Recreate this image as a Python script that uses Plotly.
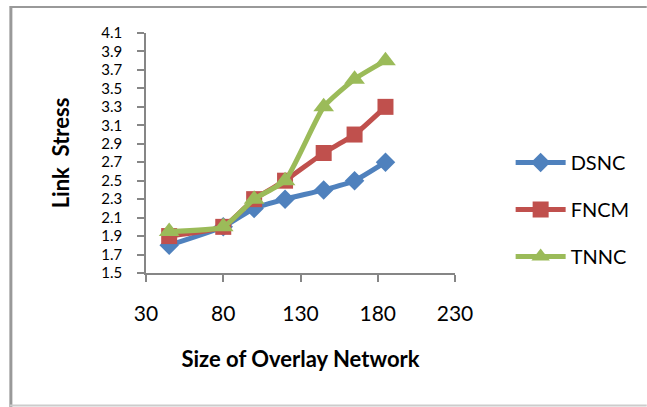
import plotly.graph_objects as go

x_vals = [45, 80, 100, 120, 145, 165, 185]
dsnc = [1.8, 2.0, 2.2, 2.3, 2.4, 2.5, 2.7]
fncm = [1.9, 2.0, 2.3, 2.5, 2.8, 3.0, 3.3]
tnnc = [1.95, 2.0, 2.3, 2.5, 3.3, 3.6, 3.8]
series_names = ["DSNC", "FNCM", "TNNC"]
colors = ["#4F81BD", "#C0504D", "#9BBB59"]
symbols = ["diamond", "square", "triangle-up"]
sizes = [15, 16, 18]

W, H = 647, 407
ML, MR, MT, MB = 146, 190, 33, 134
PW, PH = W - ML - MR, H - MT - MB

def px(x):
    return (x - ML) / PW

def py(y):
    return (H - MB - y) / PH

fig = go.Figure()
for i, (name, ys) in enumerate(zip(series_names, [dsnc, fncm, tnnc])):
    fig.add_trace(go.Scatter(
        x=x_vals, y=ys, name=name, mode="lines+markers",
        line=dict(color=colors[i], width=5, shape="spline", smoothing=0.5),
        marker=dict(symbol=symbols[i], size=sizes[i], color=colors[i]),
        legendgroup=name,
    ))

font = "Lato, 'Open Sans', sans-serif"
fig.update_layout(
    width=W, height=H,
    margin=dict(l=ML, r=MR, t=MT, b=MB),
    paper_bgcolor="white", plot_bgcolor="white",
    font=dict(family=font, color="black"),
    showlegend=True,
    legend=dict(x=px(513), y=py(143), xanchor="left", yanchor="top",
                font=dict(size=20, family=font), tracegroupgap=18,
                itemwidth=50, bgcolor="rgba(0,0,0,0)"),
    xaxis=dict(range=[30, 230], tick0=30, dtick=50, showgrid=False, zeroline=False,
               showline=True, linecolor="#868686", linewidth=1.5,
               ticks="outside", ticklen=7, tickcolor="#868686", tickwidth=1.5,
               tickfont=dict(size=21), ticklabelstandoff=14,
               title=dict(text="<b>Size of Overlay Network</b>", font=dict(size=22), standoff=28)),
    yaxis=dict(range=[1.5, 4.1], tick0=1.5, dtick=0.2, tickformat=".1f", showgrid=False,
               zeroline=False, showline=True, linecolor="#868686", linewidth=1.5,
               ticks="outside", ticklen=7, tickcolor="#868686", tickwidth=1.5,
               tickfont=dict(size=15), ticklabelstandoff=12,
               title=dict(text="<b>Link  Stress</b>", font=dict(size=22), standoff=26)),
    shapes=[
        dict(type="line", xref="paper", yref="paper", x0=px(10), x1=px(10), y0=py(6), y1=py(410),
             line=dict(color="#999999", width=3)),
        dict(type="line", xref="paper", yref="paper", x0=px(9), x1=px(650), y0=py(7), y1=py(7),
             line=dict(color="#999999", width=2)),
        dict(type="line", xref="paper", yref="paper", x0=px(9), x1=px(650), y0=py(405.5), y1=py(405.5),
             line=dict(color="#CCCCCC", width=2)),
    ],
)
fig.write_html("out.html")
